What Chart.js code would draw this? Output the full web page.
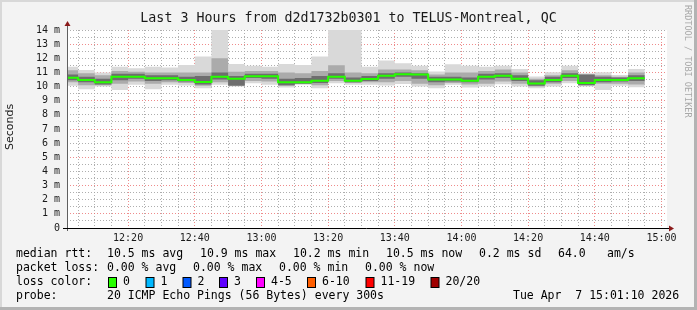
<!DOCTYPE html>
<html>
<head>
<meta charset="utf-8">
<script src="https://cdn.jsdelivr.net/npm/chart.js@4.4.1/dist/chart.umd.min.js"></script>
<style>
    html, body { margin: 0; padding: 0; background: #f3f3f3; }
</style>
</head>
<body>
<canvas id="graficoPing" width="697" height="310"></canvas>
<script>

var titulo = 'Last 3 Hours from d2d1732b0301 to TELUS-Montreal, QC'

// inicio de cada bin de 5 minutos (minutos depois das 12:00)
var inicioBins = [0, 5, 10, 15, 20, 25, 30, 35, 40, 45, 50, 55, 60, 65, 70, 75, 80, 85, 90, 95,
    100, 105, 110, 115, 120, 125, 130, 135, 140, 145, 150, 155, 160, 165, 170]
var fimUltimoBin = 175

// mediana (ms)
var mediana = [10.63, 10.47, 10.30, 10.70, 10.70, 10.59, 10.59, 10.47, 10.33, 10.70,
    10.56, 10.73, 10.73, 10.30, 10.30, 10.42, 10.70, 10.42, 10.54, 10.77,
    10.87, 10.85, 10.50, 10.50, 10.42, 10.70, 10.77, 10.56, 10.21, 10.47,
    10.77, 10.25, 10.47, 10.47, 10.59]

// fumaça: faixa externa, do meio e interna
var externoMax = [11.41, 11.18, 10.99, 11.41, 11.30, 11.41, 11.34, 11.53, 12.12, 14.6,
    11.60, 11.48, 11.41, 11.60, 11.53, 12.12, 14.6, 14.6, 11.41, 11.84,
    11.65, 11.48, 11.06, 11.58, 11.48, 11.41, 11.48, 11.25, 10.71, 11.01,
    11.48, 10.94, 11.01, 10.82, 11.25]
var externoMin = [10.05, 9.81, 10.0, 9.76, 10.12, 9.81, 10.12, 10.07, 9.88, 10.12,
    10.0, 10.24, 10.12, 9.93, 10.12, 9.88, 10.24, 10.12, 10.12, 10.07,
    10.19, 10.0, 9.88, 10.12, 9.93, 10.0, 10.17, 10.0, 9.88, 10.0,
    10.24, 10.0, 9.76, 10.05, 9.95]
var meioMax = [11.15, 10.95, 10.8, 11.1, 11.05, 11.0, 11.0, 11.0, 11.0, 12.0,
    11.05, 11.1, 11.1, 11.0, 10.95, 11.1, 11.5, 11.0, 10.95, 11.2,
    11.2, 11.15, 10.85, 11.0, 11.0, 11.1, 11.2, 11.0, 10.55, 10.8,
    11.15, 10.85, 10.8, 10.7, 11.0]
var meioMin = [10.3, 10.1, 10.1, 10.2, 10.35, 10.2, 10.3, 10.25, 10.05, 10.3,
    10.1, 10.4, 10.35, 10.05, 10.2, 10.1, 10.4, 10.25, 10.3, 10.3,
    10.4, 10.2, 10.1, 10.25, 10.15, 10.2, 10.35, 10.2, 10.0, 10.2,
    10.4, 10.1, 10.2, 10.2, 10.15]
var internoMax = [10.85, 10.7, 10.55, 10.9, 10.9, 10.8, 10.8, 10.7, 10.75, 11.0,
    10.75, 10.9, 10.9, 10.55, 10.6, 10.75, 10.95, 10.65, 10.75, 10.95,
    11.0, 10.95, 10.7, 10.7, 10.65, 10.9, 10.95, 10.8, 10.45, 10.7,
    10.95, 10.85, 10.7, 10.65, 10.8]
var internoMin = [10.45, 10.3, 10.15, 10.45, 10.55, 10.4, 10.45, 10.35, 10.15, 10.5,
    10.05, 10.6, 10.55, 10.1, 10.2, 10.25, 10.55, 10.3, 10.4, 10.55,
    10.7, 10.55, 10.3, 10.35, 10.3, 10.5, 10.6, 10.4, 10.05, 10.3,
    10.6, 10.1, 10.3, 10.35, 10.4]

// eixos
var rotulosY = ['0', '1 m', '2 m', '3 m', '4 m', '5 m', '6 m', '7 m', '8 m', '9 m', '10 m', '11 m', '12 m', '13 m', '14 m']
var horasMarcadas = [20, 40, 60, 80, 100, 120, 140, 160, 180]
var horasRotulos = ['12:20', '12:40', '13:00', '13:20', '13:40', '14:00', '14:20', '14:40', '15:00']

// legenda
var linhaRtt = ['median rtt:', '10.5 ms avg', '10.9 ms max', '10.2 ms min', '10.5 ms now', '0.2 ms sd', '64.0', 'am/s']
var linhaPerda = ['packet loss:', '0.00 % avg', '0.00 % max', '0.00 % min', '0.00 % now']
var perdaRotulos = ['0', '1', '2', '3', '4-5', '6-10', '11-19', '20/20']
var perdaCores = ['#26ff00', '#00b8ff', '#0059ff', '#5e00ff', '#ff00ff', '#ff5e00', '#ff0000', '#a00000']
var linhaProbe = ['probe:', '20 ICMP Echo Pings (56 Bytes) every 300s', 'Tue Apr  7 15:01:10 2026']

var fonteMono = '"DejaVu Sans Mono", monospace'
var corGrade = 'rgba(165,165,165,0.9)'
var corGradeMaior = 'rgba(235,110,110,0.8)'

function degraus(valores) {
    var pts = inicioBins.map(function (x, i) { return { x: x, y: valores[i] } })
    pts.push({ x: fimUltimoBin, y: valores[valores.length - 1] })
    return pts
}

function faixa(valores, cor, ordem, preencher) {
    return {
        data: degraus(valores),
        stepped: true,
        borderWidth: 0,
        pointRadius: 0,
        backgroundColor: cor,
        borderColor: cor,
        fill: preencher ? '-1' : false,
        order: ordem
    }
}

var molduraPlugin = {
    id: 'moldura',
    beforeDraw: function (chart) {
        var ctx = chart.ctx
        var a = chart.chartArea
        ctx.save()
        ctx.fillStyle = '#f3f3f3'
        ctx.fillRect(0, 0, chart.width, chart.height)
        ctx.fillStyle = '#d8d8d8'
        ctx.fillRect(0, 0, chart.width, 2)
        ctx.fillRect(0, 0, 2, chart.height)
        ctx.fillStyle = '#b3b3b3'
        ctx.fillRect(chart.width - 3, 0, 3, chart.height)
        ctx.fillRect(0, chart.height - 3, chart.width, 3)
        ctx.fillStyle = '#ffffff'
        ctx.fillRect(a.left, a.top, a.right - a.left, a.bottom - a.top)
        ctx.restore()
    },
    afterDraw: function (chart) {
        var ctx = chart.ctx
        var a = chart.chartArea
        ctx.save()

        // eixos com setas
        ctx.lineWidth = 1
        ctx.strokeStyle = '#606060'
        ctx.beginPath()
        ctx.moveTo(a.left + 0.5, a.bottom + 3)
        ctx.lineTo(a.left + 0.5, a.top - 6)
        ctx.stroke()
        ctx.strokeStyle = '#000000'
        ctx.beginPath()
        ctx.moveTo(a.left - 4, a.bottom + 0.5)
        ctx.lineTo(a.right + 3, a.bottom + 0.5)
        ctx.stroke()
        ctx.fillStyle = '#8b1a1a'
        ctx.beginPath()
        ctx.moveTo(a.left - 2.5, a.top - 4)
        ctx.lineTo(a.left + 3.5, a.top - 4)
        ctx.lineTo(a.left + 0.5, a.top - 9)
        ctx.fill()
        ctx.beginPath()
        ctx.moveTo(a.right + 2, a.bottom - 2.5)
        ctx.lineTo(a.right + 2, a.bottom + 3.5)
        ctx.lineTo(a.right + 7, a.bottom + 0.5)
        ctx.fill()

        // titulo
        ctx.fillStyle = '#1a1a1a'
        ctx.font = '13.3px ' + fonteMono
        ctx.textAlign = 'center'
        ctx.textBaseline = 'middle'
        ctx.fillText(titulo, chart.width / 2, 19)

        // titulo do eixo y
        ctx.save()
        ctx.translate(10, 127)
        ctx.rotate(-Math.PI / 2)
        ctx.font = '11px "DejaVu Sans", sans-serif'
        ctx.fillStyle = '#1a1a1a'
        ctx.fillText('Seconds', 0, 0)
        ctx.restore()

        // marca d'agua lateral
        ctx.save()
        ctx.translate(687, 5)
        ctx.rotate(Math.PI / 2)
        ctx.font = '8.5px ' + fonteMono
        ctx.fillStyle = '#a8a8a8'
        ctx.textAlign = 'left'
        ctx.fillText('RRDTOOL / TOBI OETIKER', 0, 0)
        ctx.restore()

        // legenda
        ctx.font = '11.5px ' + fonteMono
        ctx.fillStyle = '#000000'
        ctx.textAlign = 'left'
        ctx.textBaseline = 'middle'
        var xRtt = [16, 107, 200, 293, 386, 479, 558, 607]
        linhaRtt.forEach(function (t, i) { ctx.fillText(t, xRtt[i], 254.5) })
        var xPerda = [16, 107, 193, 279, 365]
        linhaPerda.forEach(function (t, i) { ctx.fillText(t, xPerda[i], 268.5) })
        ctx.fillText('loss color:', 16, 282.5)
        var xCaixa = [108, 145.5, 182.5, 219, 256, 307, 365.5, 430.5]
        perdaRotulos.forEach(function (t, i) {
            ctx.fillStyle = perdaCores[i]
            ctx.fillRect(xCaixa[i] + 0.5, 277.5, 8, 10)
            ctx.strokeStyle = '#000000'
            ctx.strokeRect(xCaixa[i] + 0.5, 277.5, 8, 10)
            ctx.fillStyle = '#000000'
            ctx.fillText(t, xCaixa[i] + 15, 282.5)
        })
        var xProbe = [16, 107, 513]
        linhaProbe.forEach(function (t, i) { ctx.fillText(t, xProbe[i], 296.5) })

        ctx.restore()
    }
}

var ctx = document.getElementById('graficoPing').getContext('2d')
var graficoPing = new Chart(ctx, {
    type: 'line',
    data: {
        datasets: [
            faixa(externoMin, '#d9d9d9', 3, false),
            faixa(externoMax, '#d9d9d9', 3, true),
            faixa(meioMin, '#ababab', 2, false),
            faixa(meioMax, '#ababab', 2, true),
            faixa(internoMin, '#6e6e6e', 1, false),
            faixa(internoMax, '#6e6e6e', 1, true),
            {
                data: degraus(mediana),
                stepped: true,
                borderColor: '#26ff00',
                borderWidth: 2,
                pointRadius: 0,
                fill: false,
                order: 0
            }
        ]
    },
    options: {
        responsive: false,
        devicePixelRatio: 1,
        animation: false,
        layout: { padding: { left: 0, top: 30, right: 30, bottom: 62 } },
        plugins: {
            legend: { display: false },
            tooltip: { enabled: false },
            title: { display: false }
        },
        scales: {
            x: {
                type: 'linear',
                min: 1 + 40 / 60,
                max: 181 + 40 / 60,
                z: 1,
                // grade a cada 5 minutos, alinhada ao relogio
                afterBuildTicks: function (scale) {
                    var marcas = []
                    for (var m = 5; m <= 180; m += 5) marcas.push({ value: m })
                    scale.ticks = marcas
                },
                afterFit: function (scale) { scale.height = 20 },
                grid: {
                    drawTicks: false,
                    color: function (c) {
                        return c.tick && horasMarcadas.indexOf(c.tick.value) >= 0 ? corGradeMaior : corGrade
                    }
                },
                border: { display: false, dash: [1, 2] },
                ticks: {
                    padding: 4,
                    autoSkip: false,
                    maxRotation: 0,
                    color: '#1a1a1a',
                    font: { family: fonteMono, size: 10 },
                    callback: function (v) {
                        var i = horasMarcadas.indexOf(v)
                        return i >= 0 ? horasRotulos[i] : ''
                    }
                }
            },
            y: {
                min: 0,
                max: 14,
                z: 1,
                afterFit: function (scale) { scale.width = 67 },
                grid: {
                    drawTicks: false,
                    color: function (c) {
                        var v = c.tick ? c.tick.value : 0
                        return Number.isInteger(v) && v % 2 === 1 ? corGradeMaior : corGrade
                    }
                },
                border: { display: false, dash: [1, 2] },
                ticks: {
                    stepSize: 0.5,
                    padding: 7,
                    autoSkip: false,
                    color: '#1a1a1a',
                    font: { family: fonteMono, size: 10 },
                    callback: function (v) { return Number.isInteger(v) ? rotulosY[v] : '' }
                }
            }
        }
    },
    plugins: [molduraPlugin]
})
</script>
</body>
</html>
